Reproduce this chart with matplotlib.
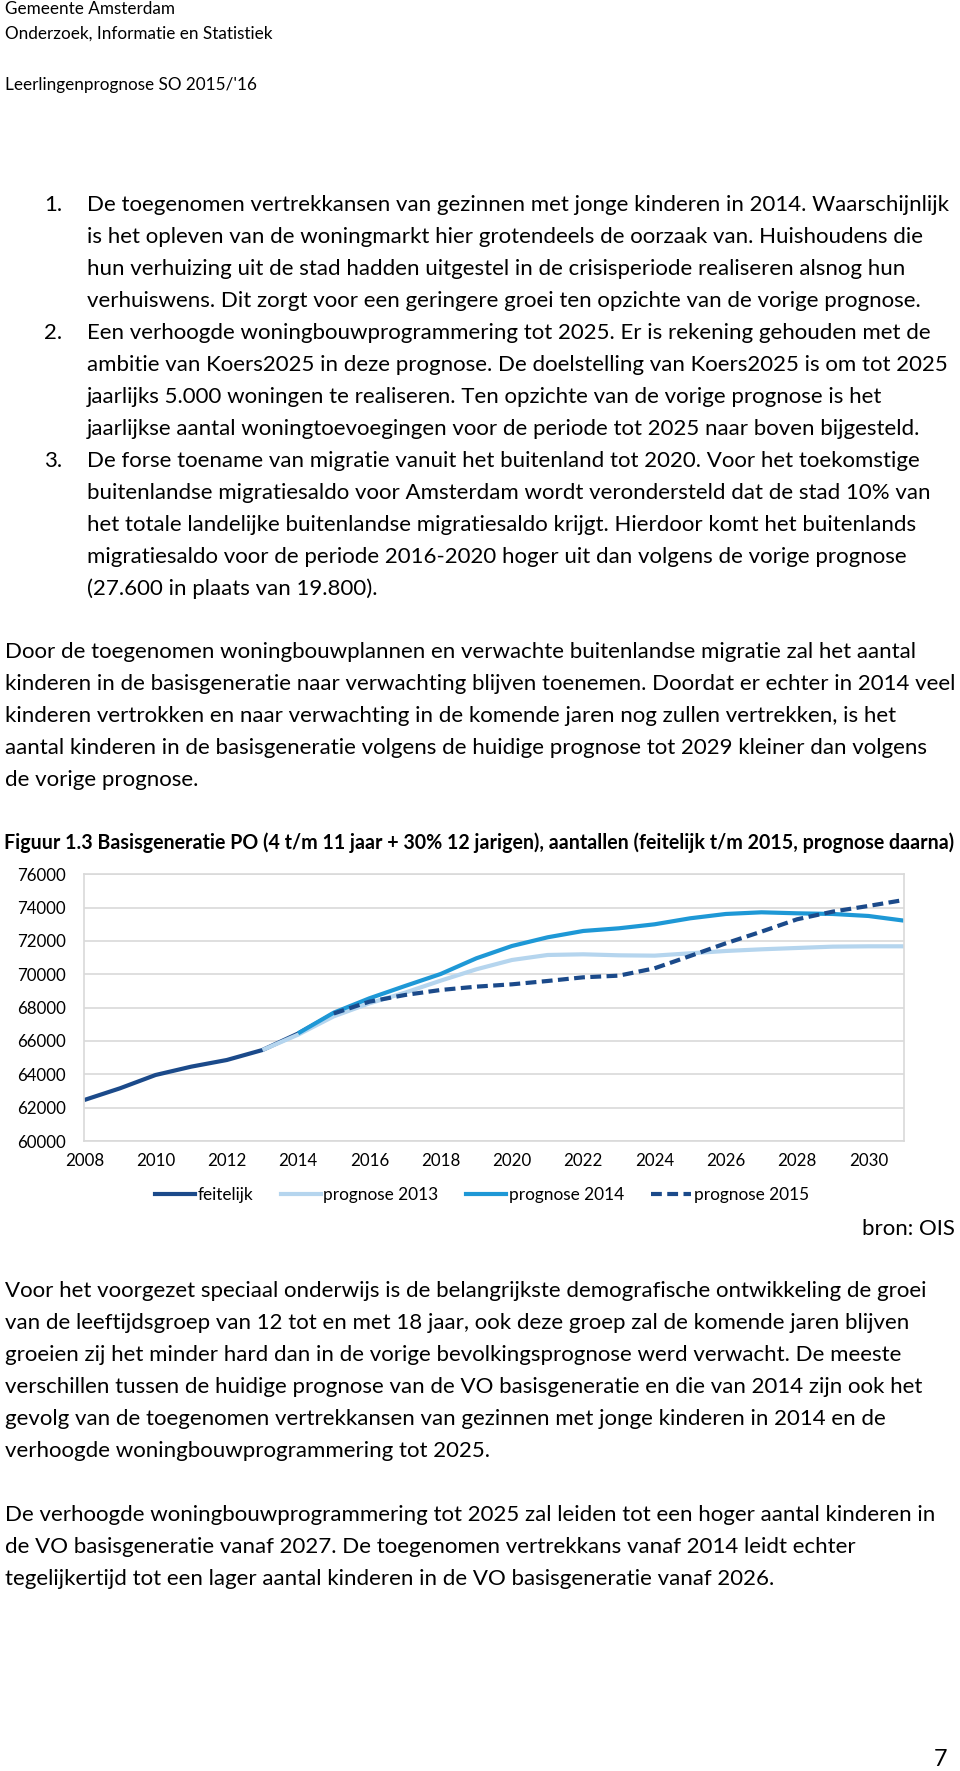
import numpy as np
import matplotlib
matplotlib.use('Agg')
import matplotlib.pyplot as plt
from matplotlib.lines import Line2D

plt.rcParams['font.family'] = ['Lato', 'DejaVu Sans']

# chart data
years_feitelijk = list(range(2008, 2016))
feitelijk = [62460, 63160, 63960, 64460, 64860, 65460, 66450, 67650]

years_p2013 = list(range(2013, 2032))
prognose_2013 = [65460, 66380, 67480, 68260, 68900, 69620, 70300, 70860, 71160, 71200,
                 71140, 71120, 71260, 71400, 71500, 71580, 71660, 71680, 71680]

years_p2014 = list(range(2014, 2032))
prognose_2014 = [66460, 67700, 68560, 69300, 70020, 70960, 71700, 72220, 72600, 72760,
                 73000, 73360, 73620, 73720, 73660, 73620, 73500, 73220]

years_p2015 = list(range(2015, 2032))
prognose_2015 = [67650, 68360, 68760, 69060, 69260, 69400, 69600, 69820, 69920, 70360,
                 71100, 71860, 72560, 73300, 73760, 74100, 74460]

y_ticks = list(range(60000, 76001, 2000))
x_ticks = list(range(2008, 2031, 2))

series_labels = ['feitelijk', 'prognose 2013', 'prognose 2014', 'prognose 2015']

header_lines = ['Gemeente Amsterdam', 'Onderzoek, Informatie en Statistiek']
subheader = "Leerlingenprognose SO 2015/'16"

list_items = [
    ['De toegenomen vertrekkansen van gezinnen met jonge kinderen in 2014. Waarschijnlijk',
     'is het opleven van de woningmarkt hier grotendeels de oorzaak van. Huishoudens die',
     'hun verhuizing uit de stad hadden uitgestel in de crisisperiode realiseren alsnog hun',
     'verhuiswens. Dit zorgt voor een geringere groei ten opzichte van de vorige prognose.'],
    ['Een verhoogde woningbouwprogrammering tot 2025. Er is rekening gehouden met de',
     'ambitie van Koers2025 in deze prognose. De doelstelling van Koers2025 is om tot 2025',
     'jaarlijks 5.000 woningen te realiseren. Ten opzichte van de vorige prognose is het',
     'jaarlijkse aantal woningtoevoegingen voor de periode tot 2025 naar boven bijgesteld.'],
    ['De forse toename van migratie vanuit het buitenland tot 2020. Voor het toekomstige',
     'buitenlandse migratiesaldo voor Amsterdam wordt verondersteld dat de stad 10% van',
     'het totale landelijke buitenlandse migratiesaldo krijgt. Hierdoor komt het buitenlands',
     'migratiesaldo voor de periode 2016-2020 hoger uit dan volgens de vorige prognose',
     '(27.600 in plaats van 19.800).'],
]

para1 = ['Door de toegenomen woningbouwplannen en verwachte buitenlandse migratie zal het aantal',
         'kinderen in de basisgeneratie naar verwachting blijven toenemen. Doordat er echter in 2014 veel',
         'kinderen vertrokken en naar verwachting in de komende jaren nog zullen vertrekken, is het',
         'aantal kinderen in de basisgeneratie volgens de huidige prognose tot 2029 kleiner dan volgens',
         'de vorige prognose.']

fig_title = ('Figuur 1.3 Basisgeneratie PO (4 t/m 11 jaar + 30% 12 jarigen), aantallen '
             '(feitelijk t/m 2015, prognose daarna)')

para2 = ['Voor het voorgezet speciaal onderwijs is de belangrijkste demografische ontwikkeling de groei',
         'van de leeftijdsgroep van 12 tot en met 18 jaar, ook deze groep zal de komende jaren blijven',
         'groeien zij het minder hard dan in de vorige bevolkingsprognose werd verwacht. De meeste',
         'verschillen tussen de huidige prognose van de VO basisgeneratie en die van 2014 zijn ook het',
         'gevolg van de toegenomen vertrekkansen van gezinnen met jonge kinderen in 2014 en de',
         'verhoogde woningbouwprogrammering tot 2025.']

para3 = ['De verhoogde woningbouwprogrammering tot 2025 zal leiden tot een hoger aantal kinderen in',
         'de VO basisgeneratie vanaf 2027. De toegenomen vertrekkans vanaf 2014 leidt echter',
         'tegelijkertijd tot een lager aantal kinderen in de VO basisgeneratie vanaf 2026.']

W, H = 960, 1771
fig = plt.figure(figsize=(W / 100, H / 100), dpi=100)
renderer = fig.canvas.get_renderer()


def fit(s, target, weight='normal', base=14):
    t = fig.text(0, 0, s, fontsize=base, fontweight=weight)
    w = t.get_window_extent(renderer=renderer).width
    t.remove()
    return base * target / w


def put(x, y, s, size, weight='normal', ha='left'):
    fig.text(x / W, 1 - y / H, s, fontsize=size, fontweight=weight, ha=ha, va='center', color='black')


body_fs = np.mean([fit(list_items[0][0], 859), fit(para1[1], 941),
                   fit(para2[0], 929), fit(para3[0], 932)])
head_fs = fit(header_lines[1], 268)
title_fs = fit(fig_title, 951, weight='bold')
tick_fs = fit('76000', 49)
legend_fs = fit('prognose 2015', 116)

# header
put(5, 9, header_lines[0], head_fs)
put(5, 34, header_lines[1], head_fs)
put(5, 85, subheader, head_fs)

# numbered list
y = 205
step = 32.0
for i, item in enumerate(list_items):
    put(44, y, f'{i + 1}.', body_fs)
    for line in item:
        put(87, y, line, body_fs)
        y += step

y = 652
for line in para1:
    put(5, y, line, body_fs)
    y += step

put(4, 843, fig_title, title_fs, weight='bold')

y = 1291
for line in para2:
    put(5, y, line, body_fs)
    y += step
y = 1515
for line in para3:
    put(5, y, line, body_fs)
    y += step

put(955, 1229, 'bron: OIS', body_fs, ha='right')
put(947, 1760, '7', body_fs * 1.05, ha='right')

# chart
left, right, top, bottom = 84.3, 904, 874.3, 1141
ax = fig.add_axes([left / W, 1 - bottom / H, (right - left) / W, (bottom - top) / H])

dark = '#1b4a8a'
light = '#b5d5ee'
mid = '#1e98d6'
lw = 3.0
ax.plot(years_feitelijk, feitelijk, color=dark, lw=lw, solid_capstyle='butt', solid_joinstyle='round')
ax.plot(years_p2013, prognose_2013, color=light, lw=lw, solid_capstyle='butt', solid_joinstyle='round')
ax.plot(years_p2014, prognose_2014, color=mid, lw=lw, solid_capstyle='butt', solid_joinstyle='round')
ax.plot(years_p2015, prognose_2015, color=dark, lw=lw, ls=(0, (2.6, 1.3)), dash_capstyle='butt')

ax.set_xlim(2008, 2031)
ax.set_ylim(60000, 76000)
ax.set_yticks(y_ticks)
ax.set_yticklabels([str(v) for v in y_ticks])
ax.set_xticks(x_ticks)
ax.set_xticklabels([str(v) for v in x_ticks])
ax.tick_params(length=0, labelsize=tick_fs, colors='black')
ax.tick_params(axis='y', pad=13)
ax.tick_params(axis='x', pad=9)
ax.grid(axis='y', color='#d9d9d9', lw=1.2)
ax.set_axisbelow(True)
for s in ax.spines.values():
    s.set_color('#d9d9d9')
    s.set_linewidth(1.2)

handles = [Line2D([], [], color=dark, lw=lw),
           Line2D([], [], color=light, lw=lw),
           Line2D([], [], color=mid, lw=lw),
           Line2D([], [], color=dark, lw=lw, ls=(0, (2.6, 1.3)))]
fig.legend(handles, series_labels, loc='center', bbox_to_anchor=(482 / W, 1 - 1195 / H),
           ncol=4, frameon=False, fontsize=legend_fs, handlelength=2.3, handletextpad=0.15,
           columnspacing=1.6)

fig.savefig('out.png', dpi=100)
